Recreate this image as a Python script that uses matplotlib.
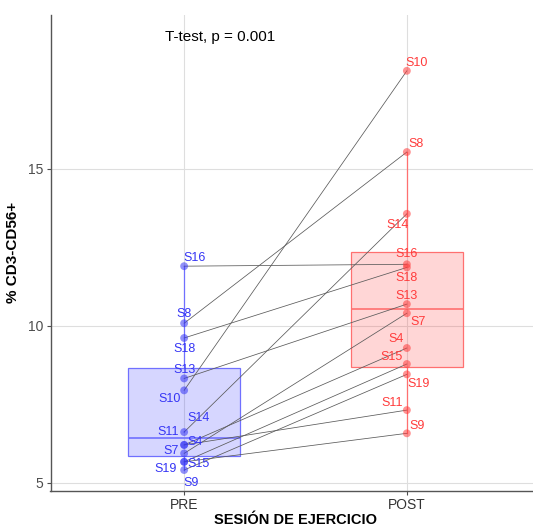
import numpy as np
import matplotlib.pyplot as plt

plt.rcParams['font.family'] = ['Liberation Sans', 'DejaVu Sans']

# Data
subjects = ["S16", "S8", "S18", "S13", "S10", "S14", "S11", "S4", "S7", "S15", "S9", "S19"]
pre  = [11.90, 10.08, 9.61, 8.32, 7.94, 6.61, 6.20, 6.20, 5.93, 5.66, 5.66, 5.40]
post = [11.96, 15.54, 11.86, 10.69, 18.13, 13.57, 7.31, 9.29, 10.40, 8.78, 6.57, 8.45]
groups = ["PRE", "POST"]
p_text = "T-test, p = 0.001"

# label offsets in pixels (dx, dy), screen-up positive
pre_off = {"S16": (10, 8), "S8": (0, 9), "S18": (0, -11), "S13": (0, 8), "S10": (-15, -9),
           "S14": (14, 14), "S11": (-16, 13), "S4": (11, 3), "S7": (-13, 2),
           "S15": (14, -2), "S9": (7, -21), "S19": (-19, 1)}
post_off = {"S10": (10, 8), "S8": (9, 8), "S14": (-9, -11), "S16": (0, 10), "S18": (0, -11),
            "S13": (0, 8), "S7": (11, -9), "S4": (-11, 9), "S15": (-15, 7), "S19": (12, -10),
            "S11": (-15, 7), "S9": (10, 7)}

blue = "#3535F5"
red = "#FF3B3B"

fig = plt.figure(figsize=(5.33, 5.27), dpi=100)
ax = fig.add_axes([50.5 / 533, 36.3 / 527, 490 / 533, 475.7 / 527])

# grid
for yv in [5, 10, 15]:
    ax.axhline(yv, color="#DEDEDE", lw=0.8, zorder=0)
for xv in [1, 2]:
    ax.axvline(xv, color="#DEDEDE", lw=0.8, zorder=0)

# boxplots
for i, (vals, col, fc) in enumerate([(pre, "#7070FF", (0.2, 0.2, 1.0, 0.2)),
                                     (post, "#FF7070", (1.0, 0.2, 0.2, 0.2))]):
    ax.boxplot([vals], positions=[i + 1], widths=0.5, whis=1.5, showfliers=False,
               patch_artist=True,
               boxprops=dict(facecolor=fc, edgecolor=col, lw=0.9),
               medianprops=dict(color=col, lw=1.2),
               whiskerprops=dict(color=col, lw=0.9),
               capprops=dict(lw=0), zorder=1)

# paired lines
for a, b in zip(pre, post):
    ax.plot([1, 2], [a, b], color="#5A5A5A", lw=0.55, zorder=2)

# points
ax.scatter([1] * len(pre), pre, s=32, color=blue, alpha=0.55, edgecolor="none", zorder=3)
ax.scatter([2] * len(post), post, s=32, color=red, alpha=0.55, edgecolor="none", zorder=3)

# labels
for s, a, b in zip(subjects, pre, post):
    dx, dy = pre_off[s]
    kw = {}
    if s == "S14":
        kw = dict(arrowprops=dict(arrowstyle="-", color=blue, lw=0.8, shrinkA=5, shrinkB=4))
    ax.annotate(s, (1, a), xytext=(dx, dy), textcoords="offset pixels",
                ha="center", va="center", fontsize=9, color=blue, zorder=4, **kw)
    dx, dy = post_off[s]
    ax.annotate(s, (2, b), xytext=(dx, dy), textcoords="offset pixels",
                ha="center", va="center", fontsize=9, color=red, zorder=4)

ax.text(1.16, 19.2, p_text, ha="center", va="center", fontsize=11, color="black")

ax.set_xlim(0.4, 2.6)
ax.set_ylim(4.74, 19.91)
ax.set_xticks([1, 2])
ax.set_xticklabels(groups)
ax.set_yticks([5, 10, 15])
ax.tick_params(axis="both", colors="#4D4D4D", labelsize=10, length=3, width=0.8, pad=2)
ax.tick_params(axis="x", labelcolor="#333333")

for sp in ["top", "right"]:
    ax.spines[sp].set_visible(False)
for sp in ["left", "bottom"]:
    ax.spines[sp].set_color("#555555")
    ax.spines[sp].set_linewidth(1.0)

ax.set_xlabel("SESIÓN DE EJERCICIO", fontsize=10.5, fontweight="bold", labelpad=1)
ax.set_ylabel("% CD3-CD56+", fontsize=11, fontweight="bold", labelpad=6)

plt.savefig("out.png", dpi=100)
